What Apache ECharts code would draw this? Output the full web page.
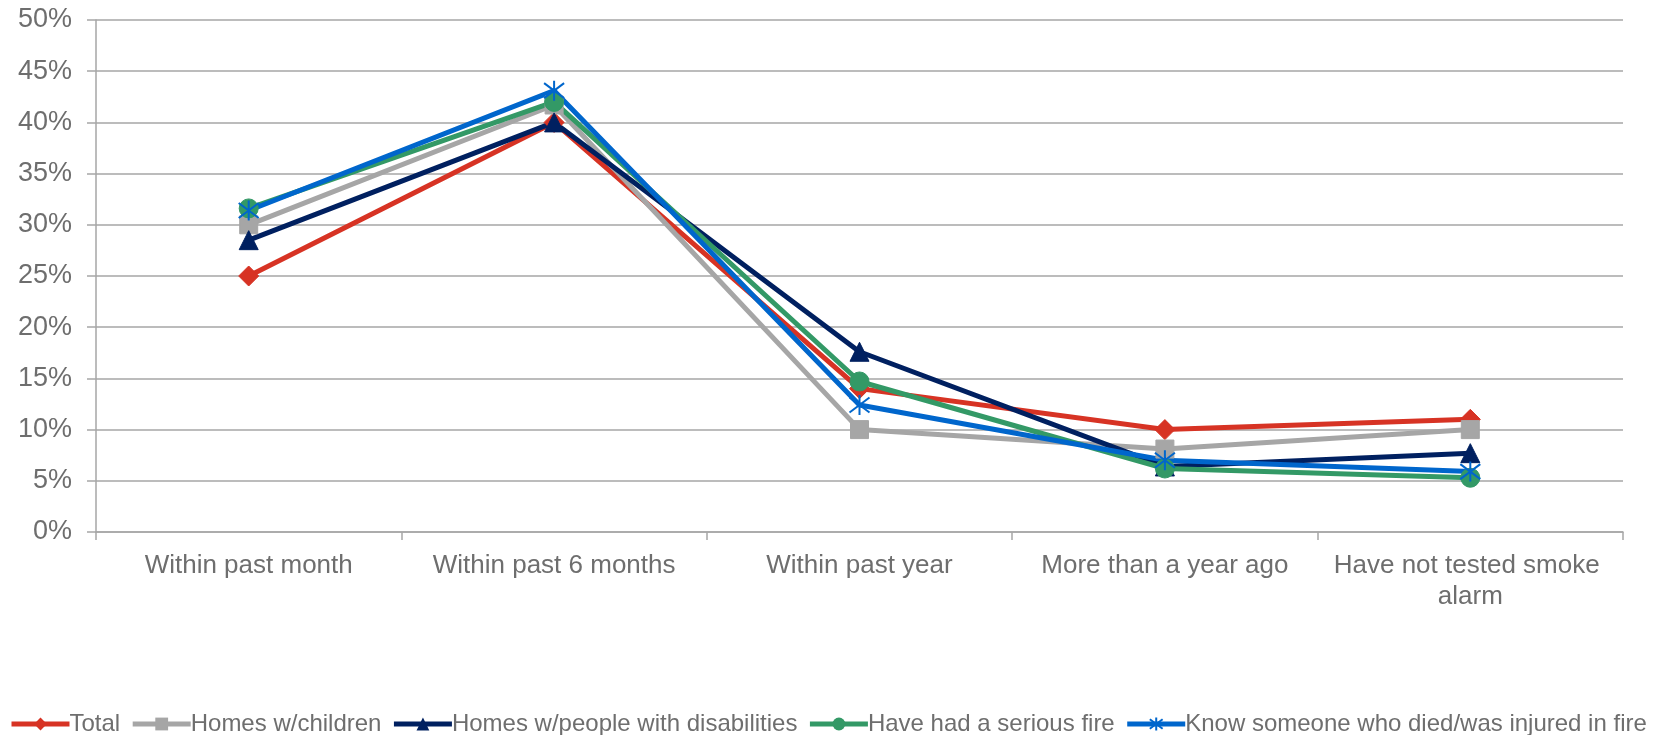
<!DOCTYPE html>
<html>
<head>
<meta charset="utf-8">
<script src="https://cdn.jsdelivr.net/npm/echarts@6/dist/echarts.min.js"></script>
<style>html,body{margin:0;padding:0;background:#fff;}#c{width:1667px;height:735px;}</style>
</head>
<body>
<div id="c"></div>
<script>
const categories = ["Within past month", "Within past 6 months", "Within past year", "More than a year ago", "Have not tested smoke alarm"];
const yTicks = [0, 5, 10, 15, 20, 25, 30, 35, 40, 45, 50];
const total = [25.0, 40.0, 14.0, 10.0, 11.0];
const homesChildren = [30.0, 41.7, 10.0, 8.1, 10.0];
const homesDisabilities = [28.5, 40.0, 17.6, 6.4, 7.7];
const seriousFire = [31.6, 42.0, 14.7, 6.2, 5.3];
const knowSomeone = [31.4, 43.1, 12.4, 7.0, 5.9];

const seriesDefs = [
  {name: "Total", data: total, color: "#D73324", symbol: "diamond", size: 20},
  {name: "Homes w/children", data: homesChildren, color: "#A6A6A6", symbol: "rect", size: 18},
  {name: "Homes w/people with disabilities", data: homesDisabilities, color: "#002060", symbol: "triangle", size: 19},
  {name: "Have had a serious fire", data: seriousFire, color: "#339966", symbol: "circle", size: 19},
  {name: "Know someone who died/was injured in fire", data: knowSomeone, color: "#0066CC", symbol: "path://M0,-10L0,10M-7.5,-7.5L7.5,7.5M-7.5,7.5L7.5,-7.5", size: 20}
];

const chart = echarts.init(document.getElementById('c'), null, {renderer: 'canvas'});
const textColor = '#6E6E6E';
const font = 'Liberation Sans, Arial';
chart.setOption({
  animation: false,
  backgroundColor: '#fff',
  grid: {left: 96, right: 44, top: 20, bottom: 203, containLabel: false},
  xAxis: {
    type: 'category',
    data: categories,
    boundaryGap: true,
    axisLine: {show: true, lineStyle: {color: '#A6A6A6', width: 1.5}},
    axisTick: {show: true, length: 8, lineStyle: {color: '#A6A6A6', width: 1.5}},
    axisLabel: {color: textColor, fontFamily: font, fontSize: 26, margin: 18, lineHeight: 31, width: 300, overflow: 'break', interval: 0}
  },
  yAxis: {
    type: 'value',
    min: 0, max: 50, interval: 5,
    axisLine: {show: true, lineStyle: {color: '#A6A6A6', width: 1.5}},
    axisTick: {show: true, length: 9, lineStyle: {color: '#A6A6A6', width: 1.5}},
    splitLine: {show: true, lineStyle: {color: '#A6A6A6', width: 1.5}},
    axisLabel: {color: textColor, fontFamily: font, fontSize: 27, margin: 24,
      formatter: v => yTicks.indexOf(v) >= 0 ? v + '%' : ''}
  },
  legend: {
    top: 707, left: 4,
    itemGap: 10, itemWidth: 58, itemHeight: 16,
    lineStyle: {width: 5},
    textStyle: {color: textColor, fontFamily: font, fontSize: 24, padding: [0, 0, 0, -5]},
    data: seriesDefs.map(s => s.name)
  },
  series: seriesDefs.map(s => ({
    name: s.name,
    type: 'line',
    data: s.data,
    symbol: s.symbol,
    symbolSize: s.size,
    showSymbol: true,
    lineStyle: {color: s.color, width: 5},
    itemStyle: s.symbol.startsWith('path://') ? {color: 'none', borderColor: s.color, borderWidth: 2} : {color: s.color, borderColor: s.color},
    color: s.color
  }))
});
</script>
</body>
</html>
